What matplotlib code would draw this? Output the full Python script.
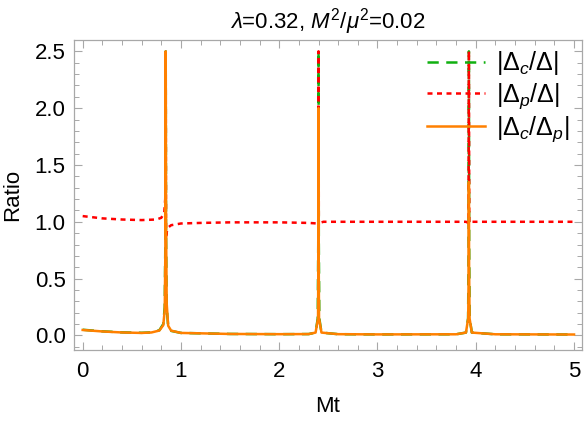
import numpy as np
import matplotlib
matplotlib.use("Agg")
import matplotlib.pyplot as plt
from matplotlib.ticker import MultipleLocator

plt.rcParams['font.family'] = ['Liberation Sans', 'DejaVu Sans']
plt.rcParams['mathtext.fontset'] = 'custom'
plt.rcParams['mathtext.rm'] = 'Liberation Sans'
plt.rcParams['mathtext.it'] = 'Liberation Sans:italic'
plt.rcParams['mathtext.bf'] = 'Liberation Sans:bold'

title = r'$\lambda$=0.32, $M^2/\mu^2$=0.02'
xlabel = 'Mt'
ylabel = 'Ratio'
labels = [r'$|\Delta_c/\Delta|$', r'$|\Delta_p/\Delta|$', r'$|\Delta_c/\Delta_p|$']

# |Delta_c / Delta|
xc = [0.0, 0.2, 0.4, 0.6, 0.7, 0.78, 0.82, 0.835, 0.842, 0.845, 0.848, 0.855, 0.87, 0.9, 1.0, 1.5, 2.0,
      2.3, 2.37, 2.392, 2.397, 2.40, 2.403, 2.408, 2.43, 2.6, 3.0, 3.8, 3.90, 3.922, 3.927, 3.93, 3.933,
      3.938, 3.96, 4.2, 5.0]
yc = [0.050, 0.036, 0.027, 0.023, 0.027, 0.045, 0.10, 0.25, 0.9, 2.5, 0.9, 0.25, 0.08, 0.04, 0.022, 0.013, 0.011,
      0.012, 0.025, 0.15, 0.8, 2.5, 0.8, 0.15, 0.025, 0.011, 0.009, 0.010, 0.025, 0.15, 0.8, 2.5, 0.8,
      0.15, 0.025, 0.010, 0.008]

# |Delta_p / Delta|
xp = [0.0, 0.2, 0.4, 0.6, 0.75, 0.8, 0.83, 0.84, 0.845, 0.848, 0.855, 0.87, 0.9, 1.0, 1.2, 1.5, 2.0,
      2.3, 2.39, 2.397, 2.40, 2.403, 2.41, 2.45, 3.0, 3.5, 3.9, 3.926, 3.93, 3.934, 3.95, 4.2, 5.0]
yp = [1.05, 1.03, 1.02, 1.015, 1.02, 1.035, 1.08, 1.2, 2.5, 0.85, 0.91, 0.95, 0.97, 0.985, 0.99, 0.995, 0.995,
      0.99, 0.985, 0.97, 2.5, 0.97, 0.99, 1.0, 1.0, 1.0, 1.0, 0.99, 2.5, 0.99, 1.0, 1.0, 1.0]

# |Delta_c / Delta_p|
xr = [0.0, 0.2, 0.4, 0.6, 0.7, 0.78, 0.82, 0.835, 0.842, 0.845, 0.848, 0.855, 0.87, 0.9, 1.0, 1.5, 2.0,
      2.3, 2.37, 2.395, 2.399, 2.40, 2.401, 2.405, 2.43, 2.6, 3.0, 3.8, 3.90, 3.923, 3.928, 3.93, 3.932,
      3.937, 3.96, 4.2, 5.0]
yr = [0.048, 0.035, 0.026, 0.022, 0.026, 0.043, 0.09, 0.22, 0.8, 2.5, 1.0, 0.28, 0.085, 0.042, 0.022, 0.013, 0.011,
      0.012, 0.025, 0.15, 0.8, 2.0, 0.8, 0.15, 0.025, 0.011, 0.009, 0.010, 0.025, 0.15, 0.6, 1.35, 0.6,
      0.15, 0.025, 0.010, 0.008]

fig = plt.figure(figsize=(5.86, 4.25), dpi=100)
ax = fig.add_axes([0.126, 0.176, 0.867, 0.730])

ax.plot(xc, yc, color='#10b010', lw=1.8, ls=(0, (4.5, 3)), label=labels[0])
ax.plot(xp, yp, color='#ff0000', lw=1.8, ls=(0, (2, 1.8)), label=labels[1])
ax.plot(xr, yr, color='#ff8000', lw=1.8, ls='-', label=labels[2])

ax.set_xlim(-0.09, 5.08)
ax.set_ylim(-0.13, 2.6)

ax.xaxis.set_major_locator(MultipleLocator(1))
ax.xaxis.set_minor_locator(MultipleLocator(0.2))
ax.yaxis.set_major_locator(MultipleLocator(0.5))
ax.yaxis.set_minor_locator(MultipleLocator(0.1))
ax.yaxis.set_major_formatter(matplotlib.ticker.FormatStrFormatter('%.1f'))

gray = '#a8a8a8'
for s in ax.spines.values():
    s.set_color(gray)
    s.set_linewidth(0.9)
ax.tick_params(which='both', direction='in', top=True, right=True, color=gray, labelsize=16,
               labelcolor='black')
ax.tick_params(which='major', length=6, width=0.8)
ax.tick_params(axis='x', which='major', pad=8)
ax.tick_params(axis='y', which='major', pad=6)
ax.tick_params(which='minor', length=3.5, width=0.7)

ax.set_xlabel(xlabel, fontsize=16, labelpad=10)
ax.set_ylabel(ylabel, fontsize=16, labelpad=8)
ax.set_title(title, fontsize=16, pad=8)

leg = ax.legend(loc='upper right', frameon=False, fontsize=18, handlelength=2.3,
                handletextpad=0.45, labelspacing=0.15, borderaxespad=0.1, bbox_to_anchor=(1.0, 1.01))

fig.savefig('out.png', dpi=100)
